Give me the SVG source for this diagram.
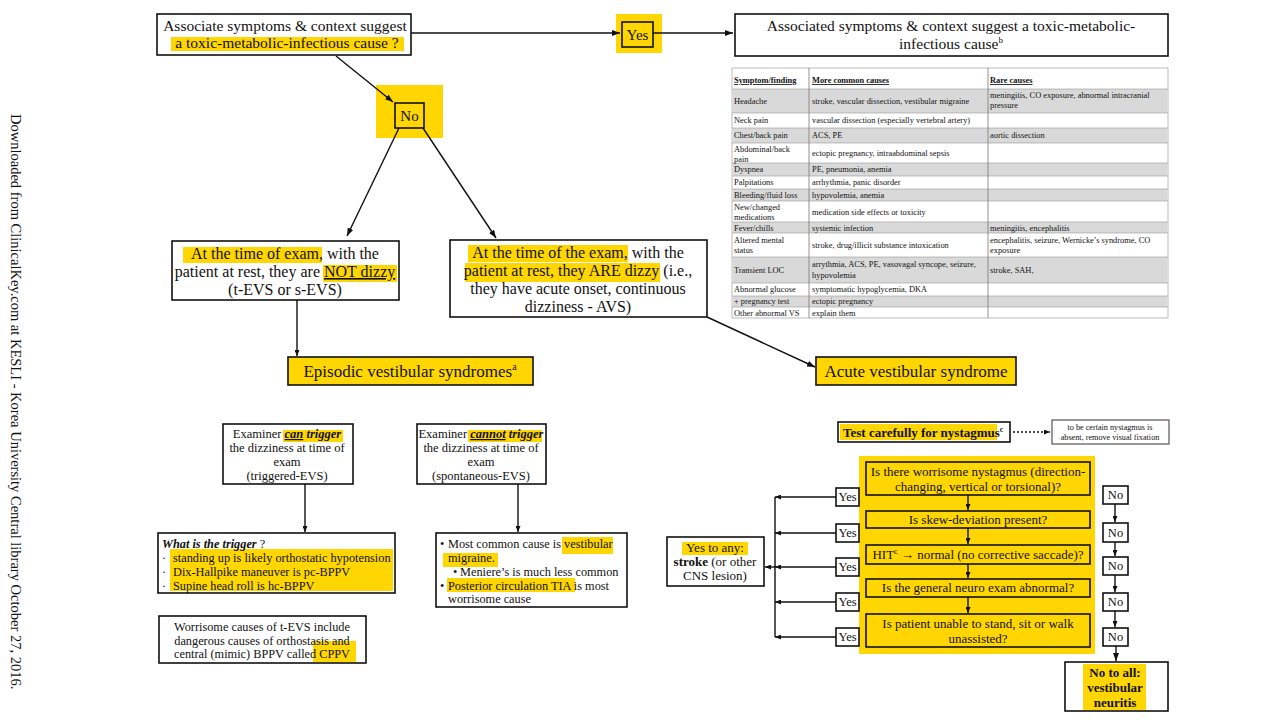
<svg xmlns="http://www.w3.org/2000/svg" width="1280" height="720" viewBox="0 0 1280 720">
<style>
text{font-family:"Liberation Serif","Times New Roman",serif;fill:#111}
.c{text-anchor:middle}
.box{fill:#fff;stroke:#111;stroke-width:1.6}
.ybox{fill:#FFD600;stroke:#111;stroke-width:1.6}
.hl{fill:#FFD600}
.ln{stroke:#111;stroke-width:1.4;fill:none}
.t16{font-size:16px}
.t17{font-size:17px}
.t15{font-size:15.5px}
.t13{font-size:13px}
.t12{font-size:12.5px}
.tl{font-size:12.3px}
.tb{font-size:8.4px}
.tbl{fill:#fff;stroke:#aaa;stroke-width:0.8}
.g{fill:#d9d9d9}
.cl{stroke:#777;stroke-width:0.8}
.rl{stroke:#999;stroke-width:0.6}
.b{font-weight:bold}
.u{text-decoration:underline}
</style>
<defs>
<marker id="ah" markerWidth="8" markerHeight="6" refX="8" refY="3" orient="auto" markerUnits="userSpaceOnUse"><path d="M0,0 L8,3 L0,6 z" fill="#111"/></marker>
<marker id="ahs" markerWidth="6" markerHeight="5" refX="6" refY="2.5" orient="auto" markerUnits="userSpaceOnUse"><path d="M0,0 L6,2.5 L0,5 z" fill="#111"/></marker>
</defs>
<rect width="1280" height="720" fill="#fff"/>

<text transform="translate(11,114) rotate(90)" font-size="14.5">Downloaded from ClinicalKey.com at KESLI - Korea University Central library October 27, 2016.</text>

<g id="q-toxic">
<rect class="box" x="157" y="14" width="254" height="41"/>
<rect class="hl" x="171" y="37" width="233" height="14"/>
<text class="c" font-size="15.5" x="285" y="31">Associate symptoms &amp; context suggest</text>
<text class="c" font-size="15.5" x="287" y="48">a toxic-metabolic-infectious cause ?</text>
</g>

<g id="yes-top">
<rect class="hl" x="616" y="14" width="46" height="39"/>
<rect fill="none" stroke="#111" stroke-width="1.6" x="622" y="22" width="31" height="25"/>
<text class="c" font-size="15" x="637.5" y="40">Yes</text>
</g>

<g id="no-top">
<rect class="hl" x="376" y="85" width="67" height="53"/>
<rect fill="none" stroke="#111" stroke-width="1.6" x="395" y="103" width="29" height="25"/>
<text class="c" font-size="15" x="409.5" y="121">No</text>
</g>

<g id="toxic-cause">
<rect class="box" x="735" y="14" width="433" height="42"/>
<text class="c t15" x="951" y="31">Associated symptoms &amp; context suggest a toxic-metabolic-</text>
<text class="c t15" x="951" y="49">infectious cause<tspan font-size="9" dy="-6">b</tspan></text>
</g>

<g id="table">
<rect class="tbl" x="732" y="68" width="436" height="250"/>
<rect class="g" x="733" y="89" width="434" height="24"/>
<rect class="g" x="733" y="128" width="434" height="15"/>
<rect class="g" x="733" y="163" width="434" height="13"/>
<rect class="g" x="733" y="189" width="434" height="12"/>
<rect class="g" x="733" y="222" width="434" height="11"/>
<rect class="g" x="733" y="257" width="434" height="26"/>
<rect class="g" x="733" y="296" width="434" height="11"/>
<g class="rl">
<line x1="732" y1="89" x2="1168" y2="89"/><line x1="732" y1="113" x2="1168" y2="113"/>
<line x1="732" y1="128" x2="1168" y2="128"/><line x1="732" y1="143" x2="1168" y2="143"/>
<line x1="732" y1="163" x2="1168" y2="163"/><line x1="732" y1="176" x2="1168" y2="176"/>
<line x1="732" y1="189" x2="1168" y2="189"/><line x1="732" y1="201" x2="1168" y2="201"/>
<line x1="732" y1="222" x2="1168" y2="222"/><line x1="732" y1="233" x2="1168" y2="233"/>
<line x1="732" y1="257" x2="1168" y2="257"/><line x1="732" y1="283" x2="1168" y2="283"/>
<line x1="732" y1="296" x2="1168" y2="296"/><line x1="732" y1="307" x2="1168" y2="307"/>
</g>
<line class="cl" x1="809" y1="68" x2="809" y2="318"/>
<line class="cl" x1="988" y1="68" x2="988" y2="318"/>
<g class="tb">
<text x="734" y="83" class="b u">Symptom/finding</text>
<text x="812" y="83" class="b u">More common causes</text>
<text x="990" y="83" class="b u">Rare causes</text>
<text x="734" y="104">Headache</text>
<text x="812" y="104">stroke, vascular dissection, vestibular migraine</text>
<text x="990" y="98">meningitis, CO exposure, abnormal intracranial</text>
<text x="990" y="108">pressure</text>
<text x="734" y="123">Neck pain</text>
<text x="812" y="123">vascular dissection (especially vertebral artery)</text>
<text x="734" y="138">Chest/back pain</text>
<text x="812" y="138">ACS, PE</text>
<text x="990" y="138">aortic dissection</text>
<text x="734" y="152">Abdominal/back</text>
<text x="734" y="162">pain</text>
<text x="812" y="156">ectopic pregnancy, intraabdominal sepsis</text>
<text x="734" y="172">Dyspnea</text>
<text x="812" y="172">PE, pneumonia, anemia</text>
<text x="734" y="185">Palpitations</text>
<text x="812" y="185">arrhythmia, panic disorder</text>
<text x="734" y="198">Bleeding/fluid loss</text>
<text x="812" y="198">hypovolemia, anemia</text>
<text x="734" y="210">New/changed</text>
<text x="734" y="220">medications</text>
<text x="812" y="215">medication side effects or toxicity</text>
<text x="734" y="231">Fever/chills</text>
<text x="812" y="231">systemic infection</text>
<text x="990" y="231">meningitis, encephalitis</text>
<text x="734" y="243">Altered mental</text>
<text x="734" y="253">status</text>
<text x="812" y="248">stroke, drug/illicit substance intoxication</text>
<text x="990" y="243">encephalitis, seizure, Wernicke’s syndrome, CO</text>
<text x="990" y="253">exposure</text>
<text x="734" y="273">Transient LOC</text>
<text x="812" y="267">arrythmia, ACS, PE, vasovagal syncope, seizure,</text>
<text x="812" y="278">hypovolemia</text>
<text x="990" y="273">stroke, SAH,</text>
<text x="734" y="292">Abnormal glucose</text>
<text x="812" y="292">symptomatic hypoglycemia, DKA</text>
<text x="734" y="304">+ pregnancy test</text>
<text x="812" y="304">ectopic pregnancy</text>
<text x="734" y="316">Other abnormal VS</text>
<text x="812" y="316">explain them</text>
</g>
</g>

<g id="not-dizzy">
<rect class="box" x="172" y="241" width="227" height="59"/>
<rect class="hl" x="183" y="247" width="139" height="16"/>
<rect class="hl" x="323" y="265" width="74" height="17"/>
<text class="c t16" x="285" y="259">At the time of exam, with the</text>
<text class="c t16" x="285" y="277">patient at rest, they are <tspan class="u">NOT dizzy</tspan></text>
<text class="c t16" x="285" y="295">(t-EVS or s-EVS)</text>
</g>

<g id="are-dizzy">
<rect class="box" x="450" y="240" width="257" height="77"/>
<rect class="hl" x="468" y="245" width="160" height="17"/>
<rect class="hl" x="465" y="263" width="195" height="19"/>
<text class="c t16" x="578" y="258">At the time of the exam, with the</text>
<text class="c t16" x="578" y="276">patient at rest, they ARE dizzy (i.e.,</text>
<text class="c t16" x="578" y="294">they have acute onset, continuous</text>
<text class="c t16" x="578" y="312">dizziness - AVS)</text>
</g>

<g id="evs">
<rect class="ybox" x="288" y="357" width="245" height="28"/>
<text class="c t17" x="410" y="377">Episodic vestibular syndromes<tspan font-size="10" dy="-7">a</tspan></text>
</g>

<g id="avs">
<rect class="ybox" x="816" y="357" width="200" height="28"/>
<text class="c t17" x="916" y="377">Acute vestibular syndrome</text>
</g>

<g id="can-trigger">
<rect class="box" x="223" y="424" width="130" height="60"/>
<rect class="hl" x="283" y="430" width="60" height="12"/>
<text class="c t12" x="287" y="438">Examiner <tspan class="b u" font-style="italic">can</tspan><tspan class="b" font-style="italic"> trigger</tspan></text>
<text class="c t12" x="287" y="452">the dizziness at time of</text>
<text class="c t12" x="287" y="466">exam</text>
<text class="c t12" x="287" y="480">(triggered-EVS)</text>
</g>

<g id="cannot-trigger">
<rect class="box" x="417" y="424" width="129" height="60"/>
<rect class="hl" x="468" y="430" width="74" height="12"/>
<text class="c t12" x="481" y="438">Examiner <tspan class="b u" font-style="italic">cannot</tspan><tspan class="b" font-style="italic"> trigger</tspan></text>
<text class="c t12" x="481" y="452">the dizziness at time of</text>
<text class="c t12" x="481" y="466">exam</text>
<text class="c t12" x="481" y="480">(spontaneous-EVS)</text>
</g>

<g id="what-trigger">
<rect class="box" x="158" y="533" width="237" height="60"/>
<rect class="hl" x="170" y="549" width="223" height="42"/>
<text class="tl" x="162" y="548"><tspan class="b" font-style="italic">What is the trigger</tspan> ?</text>
<text class="tl" x="162" y="562">·</text><text class="tl" x="173" y="562">standing up is likely orthostatic hypotension</text>
<text class="tl" x="162" y="576">·</text><text class="tl" x="173" y="576">Dix-Hallpike maneuver is pc-BPPV</text>
<text class="tl" x="162" y="590">·</text><text class="tl" x="173" y="590">Supine head roll is hc-BPPV</text>
</g>

<g id="most-common">
<rect class="box" x="436" y="533" width="191" height="74"/>
<rect class="hl" x="562" y="537" width="51" height="17"/>
<rect class="hl" x="443" y="553" width="55" height="14"/>
<rect class="hl" x="447" y="578" width="128" height="14"/>
<text class="tl" x="440" y="548">•</text><text class="tl" x="448" y="548">Most common cause is vestibular</text>
<text class="tl" x="448" y="562">migraine.</text>
<text class="tl" x="453" y="576">•</text><text class="tl" x="460" y="576">Meniere’s is much less common</text>
<text class="tl" x="440" y="590">•</text><text class="tl" x="448" y="590">Posterior circulation TIA is most</text>
<text class="tl" x="448" y="603">worrisome cause</text>
</g>

<g id="worrisome">
<rect class="box" x="159" y="616" width="207" height="47"/>
<rect class="hl" x="313" y="641" width="43" height="21"/>
<text class="c tl" x="262" y="631">Worrisome causes of t-EVS include</text>
<text class="c tl" x="262" y="645">dangerous causes of orthostasis and</text>
<text class="c tl" x="262" y="658">central (mimic) BPPV called CPPV</text>
</g>

<g id="test-nystagmus">
<rect class="box" x="838" y="422" width="172" height="20"/>
<rect class="hl" x="840" y="424" width="157" height="16"/>
<text class="b" font-size="13" x="843" y="437">Test carefully for nystagmus<tspan font-size="8" dy="-5">c</tspan></text>
</g>

<g id="fixation-note">
<rect fill="#fff" stroke="#333" stroke-width="1" x="1052" y="420" width="117" height="24"/>
<text class="c" font-size="8.2" x="1110" y="430">to be certain nystagmus is</text>
<text class="c" font-size="8.2" x="1110" y="440">absent, remove visual fixation</text>
</g>

<g id="hints-panel">
<rect class="hl" x="859" y="456" width="236" height="198"/>
</g>
<g id="q1">
<rect class="ybox" x="866" y="462" width="224" height="33"/>
<text class="c t13" x="978" y="476">Is there worrisome nystagmus (direction-</text>
<text class="c t13" x="978" y="491">changing, vertical or torsional)?</text>
</g>
<g id="q2">
<rect class="ybox" x="866" y="511" width="224" height="17"/>
<text class="c t13" x="978" y="524">Is skew-deviation present?</text>
</g>
<g id="q3">
<rect class="ybox" x="866" y="545" width="224" height="19"/>
<text class="c t13" x="978" y="559">HIT<tspan font-size="8" dy="-5">c</tspan><tspan dy="5">  → normal (no corrective saccade)?</tspan></text>
</g>
<g id="q4">
<rect class="ybox" x="866" y="579" width="224" height="18"/>
<text class="c t13" x="978" y="592">Is the general neuro exam abnormal?</text>
</g>
<g id="q5">
<rect class="ybox" x="866" y="614" width="224" height="33"/>
<text class="c t13" x="978" y="628">Is patient unable to stand, sit or walk</text>
<text class="c t13" x="978" y="643">unassisted?</text>
</g>

<g id="yes-labels">
<rect class="box" x="836" y="488" width="23" height="18"/><text class="c t12" x="847.5" y="501">Yes</text>
<rect class="box" x="836" y="524" width="23" height="18"/><text class="c t12" x="847.5" y="537">Yes</text>
<rect class="box" x="836" y="558" width="23" height="18"/><text class="c t12" x="847.5" y="571">Yes</text>
<rect class="box" x="836" y="593" width="23" height="18"/><text class="c t12" x="847.5" y="606">Yes</text>
<rect class="box" x="836" y="628" width="23" height="18"/><text class="c t12" x="847.5" y="641">Yes</text>
</g>

<g id="no-labels">
<rect class="box" x="1103" y="486" width="25" height="18"/><text class="c t12" x="1115.5" y="499">No</text>
<rect class="box" x="1103" y="523" width="25" height="19"/><text class="c t12" x="1115.5" y="537">No</text>
<rect class="box" x="1103" y="557" width="25" height="18"/><text class="c t12" x="1115.5" y="570">No</text>
<rect class="box" x="1103" y="593" width="25" height="18"/><text class="c t12" x="1115.5" y="606">No</text>
<rect class="box" x="1103" y="628" width="25" height="18"/><text class="c t12" x="1115.5" y="641">No</text>
</g>

<g id="stroke">
<rect class="box" x="667" y="537" width="97" height="49"/>
<rect class="hl" x="682" y="542" width="66" height="13"/>
<text class="c t13" x="715" y="552">Yes to any:</text>
<text class="c t13" x="715" y="566"><tspan class="b">stroke</tspan> (or other</text>
<text class="c t13" x="715" y="580">CNS lesion)</text>
</g>

<g id="neuritis">
<rect class="box" x="1065" y="662" width="103" height="49"/>
<rect class="hl" x="1083" y="664" width="63" height="46"/>
<text class="c t13 b" x="1115" y="677">No to all:</text>
<text class="c t13 b" x="1115" y="692">vestibular</text>
<text class="c t13 b" x="1115" y="707">neuritis</text>
</g>

<g id="connectors">
<line class="ln" x1="411" y1="33" x2="620" y2="33" marker-end="url(#ah)"/>
<line class="ln" x1="653" y1="33" x2="733" y2="33" marker-end="url(#ah)"/>
<line class="ln" x1="336" y1="56" x2="393" y2="102" marker-end="url(#ah)"/>
<line class="ln" x1="399" y1="128" x2="347" y2="236" marker-end="url(#ah)"/>
<line class="ln" x1="423" y1="128" x2="496" y2="238" marker-end="url(#ah)"/>
<line class="ln" x1="297" y1="300" x2="297" y2="356" marker-end="url(#ahs)"/>
<line class="ln" x1="707" y1="317" x2="815" y2="367" marker-end="url(#ah)"/>
<line class="ln" x1="305" y1="484" x2="305" y2="532" marker-end="url(#ahs)"/>
<line class="ln" x1="518" y1="484" x2="518" y2="532" marker-end="url(#ahs)"/>
<line class="ln" x1="1013" y1="432" x2="1050" y2="432" stroke-dasharray="2,2" marker-end="url(#ahs)"/>
<line class="ln" x1="968" y1="495" x2="968" y2="510" marker-end="url(#ahs)"/>
<line class="ln" x1="968" y1="528" x2="968" y2="544" marker-end="url(#ahs)"/>
<line class="ln" x1="968" y1="564" x2="968" y2="578" marker-end="url(#ahs)"/>
<line class="ln" x1="968" y1="597" x2="968" y2="613" marker-end="url(#ahs)"/>
<line class="ln" x1="836" y1="497" x2="775" y2="497" marker-end="url(#ahs)"/>
<line class="ln" x1="836" y1="533" x2="775" y2="533" marker-end="url(#ahs)"/>
<line class="ln" x1="836" y1="567" x2="775" y2="567" marker-end="url(#ahs)"/>
<line class="ln" x1="836" y1="602" x2="775" y2="602" marker-end="url(#ahs)"/>
<line class="ln" x1="836" y1="637" x2="775" y2="637" marker-end="url(#ahs)"/>
<line class="ln" x1="775" y1="497" x2="775" y2="637"/>
<line class="ln" x1="775" y1="567" x2="765" y2="567" marker-end="url(#ahs)"/>
<line class="ln" x1="1115" y1="504" x2="1115" y2="522" marker-end="url(#ahs)"/>
<line class="ln" x1="1115" y1="542" x2="1115" y2="556" marker-end="url(#ahs)"/>
<line class="ln" x1="1115" y1="575" x2="1115" y2="592" marker-end="url(#ahs)"/>
<line class="ln" x1="1115" y1="611" x2="1115" y2="627" marker-end="url(#ahs)"/>
<line class="ln" x1="1116" y1="646" x2="1116" y2="661" stroke-width="2.2" marker-end="url(#ah)"/>
</g>
</svg>
